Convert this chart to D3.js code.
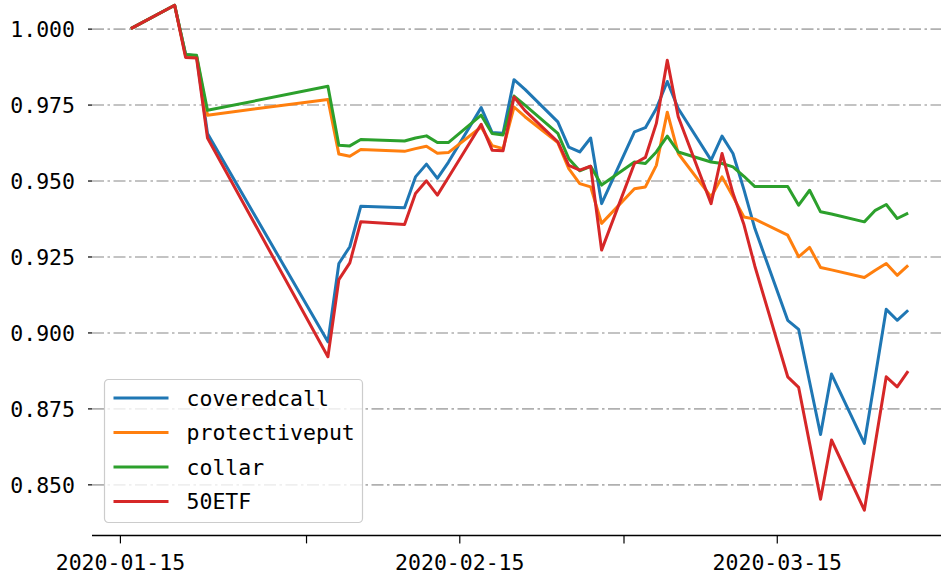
<!DOCTYPE html>
<html>
<head>
<meta charset="utf-8">
<script src="https://cdn.jsdelivr.net/npm/d3@7/dist/d3.min.js"></script>
<style>
    body { margin: 0; background: #fff; }
    svg text { font-family: "DejaVu Sans Mono", monospace; fill: #000; }
</style>
</head>
<body>
<svg id="line-chart-svg" width="941" height="574"></svg>
<script>
// data
let dates = ['2020-01-16', '2020-01-20', '2020-01-21', '2020-01-22', '2020-01-23',
    '2020-02-03', '2020-02-04', '2020-02-05', '2020-02-06', '2020-02-10', '2020-02-11', '2020-02-12', '2020-02-13', '2020-02-14',
    '2020-02-17', '2020-02-18', '2020-02-19', '2020-02-20', '2020-02-21',
    '2020-02-24', '2020-02-25', '2020-02-26', '2020-02-27', '2020-02-28',
    '2020-03-02', '2020-03-03', '2020-03-04', '2020-03-05', '2020-03-06',
    '2020-03-09', '2020-03-10', '2020-03-11', '2020-03-12', '2020-03-13',
    '2020-03-16', '2020-03-17', '2020-03-18', '2020-03-19', '2020-03-20',
    '2020-03-23', '2020-03-24', '2020-03-25', '2020-03-26', '2020-03-27'];
let coveredcall = [1.000, 1.0077, 0.9915, 0.9910, 0.9655,
    0.8969, 0.9227, 0.9282, 0.9415, 0.9410, 0.9512, 0.9554, 0.9507, 0.9560,
    0.9740, 0.9658, 0.9656, 0.9832, 0.9800,
    0.9693, 0.9610, 0.9594, 0.9640, 0.9424,
    0.9660, 0.9674, 0.9737, 0.9826, 0.9737,
    0.9567, 0.9646, 0.9589, 0.9470, 0.9342,
    0.9040, 0.9010, 0.8837, 0.8664, 0.8863,
    0.8635, 0.8855, 0.9076, 0.9040, 0.9073];
let protectiveput = [1.000, 1.0077, 0.9910, 0.9910, 0.9715,
    0.9767, 0.9587, 0.9580, 0.9602, 0.9596, 0.9605, 0.9613, 0.9590, 0.9592,
    0.9676, 0.9615, 0.9605, 0.9742, 0.9710,
    0.9625, 0.9539, 0.9490, 0.9479, 0.9359,
    0.9473, 0.9479, 0.9550, 0.9725, 0.9589,
    0.9446, 0.9512, 0.9447, 0.9380, 0.9373,
    0.9320, 0.9249, 0.9280, 0.9214, 0.9206,
    0.9181, 0.9205, 0.9227, 0.9188, 0.9221];
let collar = [1.000, 1.0077, 0.9915, 0.9912, 0.9731,
    0.9810, 0.9616, 0.9614, 0.9635, 0.9630, 0.9640, 0.9647, 0.9625, 0.9625,
    0.9715, 0.9655, 0.9650, 0.9778, 0.9748,
    0.9655, 0.9572, 0.9532, 0.9547, 0.9485,
    0.9561, 0.9556, 0.9594, 0.9646, 0.9594,
    0.9561, 0.9556, 0.9545, 0.9514, 0.9480,
    0.9480, 0.9419, 0.9468, 0.9397, 0.9390,
    0.9364, 0.9402, 0.9421, 0.9375, 0.9393];
let etf50 = [1.000, 1.0077, 0.9905, 0.9903, 0.9640,
    0.8920, 0.9174, 0.9229, 0.9364, 0.9355, 0.9457, 0.9499, 0.9452, 0.9510,
    0.9685, 0.9600, 0.9598, 0.9775, 0.9730,
    0.9627, 0.9550, 0.9534, 0.9547, 0.9271,
    0.9556, 0.9576, 0.9688, 0.9896, 0.9710,
    0.9424, 0.9589, 0.9458, 0.9355, 0.9218,
    0.8854, 0.8819, 0.8635, 0.8451, 0.8646,
    0.8415, 0.8635, 0.8854, 0.8821, 0.8873];

let seriesNames = ['coveredcall', 'protectiveput', 'collar', '50ETF'];
let seriesValues = [coveredcall, protectiveput, collar, etf50];
let seriesColors = ['#1f77b4', '#ff7f0e', '#2ca02c', '#d62728'];

let yTicks = [0.850, 0.875, 0.900, 0.925, 0.950, 0.975, 1.000];
let xTicks = ['2020-01-15', '2020-02-01', '2020-02-15', '2020-03-01', '2020-03-15'];
let xTickLabels = ['2020-01-15', '', '2020-02-15', '', '2020-03-15'];

let parseDate = d3.timeParse('%Y-%m-%d');
let dateObjs = dates.map(parseDate);

let svg = d3.select('#line-chart-svg');
let plot = {l: 92, r: 947, t: -20, b: 535.4};

// matplotlib-like 5% margins on both axes
let dayMs = 24 * 3600 * 1000;
let xExt = d3.extent(dateObjs);
let xPad = (xExt[1] - xExt[0]) * 0.05;
let xScale = d3.scaleTime()
    .domain([new Date(+xExt[0] - xPad), new Date(+xExt[1] + xPad)])
    .range([plot.l, plot.r]);
let yScale = d3.scaleLinear().domain([0.8332, 1.016]).range([plot.b, plot.t]);

// grid lines
let gridAxis = d3.axisLeft(yScale).tickValues(yTicks)
    .tickSize(-(plot.r - plot.l)).tickFormat('');
let gridG = svg.append('g')
    .attr('transform', `translate(${plot.l}, 0)`)
    .call(gridAxis);
gridG.select('.domain').remove();
gridG.selectAll('line')
    .attr('stroke', '#b0b0b0')
    .attr('stroke-width', 1.6)
    .attr('stroke-dasharray', '12,3.5,2.5,3.5');

// y axis (ticks + labels, no spine)
let yAxis = d3.axisLeft(yScale).tickValues(yTicks)
    .tickSize(4).tickPadding(13).tickFormat(d3.format('.3f'));
let yAxisG = svg.append('g')
    .attr('transform', `translate(${plot.l}, 0)`)
    .call(yAxis);
yAxisG.select('.domain').remove();
yAxisG.selectAll('line').attr('stroke', '#000').attr('stroke-width', 1.2);
yAxisG.selectAll('text').style('font-size', '21.5px').attr('dy', '0.36em');

// x axis
let xAxis = d3.axisBottom(xScale)
    .tickValues(xTicks.map(parseDate))
    .tickSize(8).tickPadding(11)
    .tickFormat((d, i) => xTickLabels[i]);
let xAxisG = svg.append('g')
    .attr('transform', `translate(0, ${plot.b})`)
    .call(xAxis);
xAxisG.select('.domain')
    .attr('d', `M${plot.l},0H${plot.r}`)
    .attr('stroke', '#000').attr('stroke-width', 1.5);
xAxisG.selectAll('line').attr('stroke', '#000').attr('stroke-width', 1.2);
xAxisG.selectAll('text').style('font-size', '21.5px');

// lines
let lineFun = d3.line()
    .x((d, i) => xScale(dateObjs[i]))
    .y(d => yScale(d));
let pathG = svg.append('g').attr('class', 'pathG');
seriesValues.forEach((vals, k) => {
    pathG.append('path')
        .datum(vals)
        .attr('fill', 'none')
        .attr('stroke', seriesColors[k])
        .attr('stroke-width', 3)
        .attr('stroke-linejoin', 'round')
        .attr('d', lineFun);
});

// legend
let legend = svg.append('g').attr('class', 'legend')
    .attr('transform', 'translate(104.5, 379.5)');
legend.append('rect')
    .attr('width', 258).attr('height', 143)
    .attr('rx', 4).attr('ry', 4)
    .attr('fill', '#fff').attr('fill-opacity', 0.8)
    .attr('stroke', '#cccccc').attr('stroke-width', 1.2);
seriesNames.forEach((name, k) => {
    let row = legend.append('g').attr('transform', `translate(0, ${18.5 + k * 34.5})`);
    row.append('line')
        .attr('x1', 9).attr('x2', 64)
        .attr('y1', 0).attr('y2', 0)
        .attr('stroke', seriesColors[k])
        .attr('stroke-width', 3);
    row.append('text')
        .text(name)
        .attr('x', 82)
        .attr('y', 7.5)
        .style('font-size', '21.5px');
});
</script>
</body>
</html>
